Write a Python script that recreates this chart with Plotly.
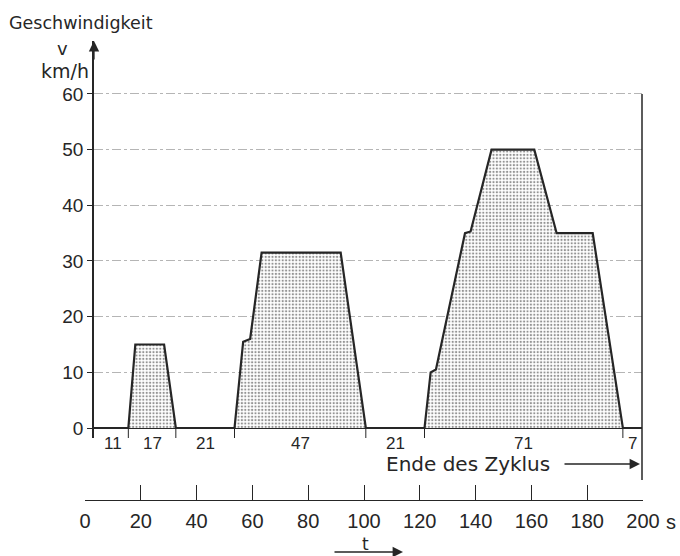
import plotly.graph_objects as go

# ---------------- data ----------------
time_s = [0, 11, 13.5, 23.8, 28, 49, 52.1, 54.6, 58.7, 87, 96,
          117, 119.2, 121.1, 131.5, 133.5, 141, 156.3, 164.3, 177.2, 188, 195]
speed_kmh = [0, 0, 15, 15, 0, 0, 15.5, 16, 31.5, 31.5, 0,
             0, 10, 10.5, 35, 35.3, 50, 50, 35, 35, 0, 0]

segment_durations = [11, 17, 21, 47, 21, 71, 7]   # s
speed_ticks = [0, 10, 20, 30, 40, 50, 60]
time_ticks = [0, 20, 40, 60, 80, 100, 120, 140, 160, 180, 200]
time_ticktext = ["0", "20", "40", "60", "80", "100", "120", "140", "160", "180", "200"]

# ---------------- helpers ----------------
W, H = 680, 556
def px(x):
    return x / W
def py(y):
    return 1 - y / H

INK = "#262626"
NUMFONT = "Liberation Sans"
TXTFONT = "DejaVu Sans"

# segment boundaries / midpoints
bounds = []
acc = 0
for d in segment_durations:
    acc += d
    bounds.append(acc)
starts = [0] + bounds[:-1]
mids = [(s + e) / 2 for s, e in zip(starts, bounds)]

fig = go.Figure()

# speed profile with stippled fill
fig.add_trace(go.Scatter(
    x=time_s, y=speed_kmh, mode="lines",
    line=dict(color=INK, width=2.2),
    fill="tozeroy", fillcolor="white",
    fillpattern=dict(shape=".", size=3.4, solidity=0.35, fgcolor="#2a2a2a", bgcolor="white"),
    hoverinfo="skip", showlegend=False, xaxis="x", yaxis="y"))

# segment tick marks below the baseline
tx, ty = [], []
for b in bounds[:-1]:
    tx += [b, b, None]
    ty += [0, -1.8, None]
fig.add_trace(go.Scatter(x=tx, y=ty, mode="lines", line=dict(color=INK, width=1),
                         hoverinfo="skip", showlegend=False, xaxis="x", yaxis="y",
                         cliponaxis=False))

# dummy trace for the bottom time axis
fig.add_trace(go.Scatter(x=[0, 200], y=[0, 0], mode="markers", marker=dict(opacity=0),
                         hoverinfo="skip", showlegend=False, xaxis="x2", yaxis="y2"))

yr0 = (428 - 438) / 5.567
yr1 = (428 - 41) / 5.567
xr0 = (94 - 97.6) / 2.794
xr1 = (642 - 97.6) / 2.794

def note(x, y, text, family, size):
    return dict(x=px(x), y=py(y), xref="paper", yref="paper", text=text,
                xanchor="center", yanchor="middle", showarrow=False,
                font=dict(family=family, size=size, color=INK))

def arrow(x, y, ax, ay):
    return dict(x=px(x), y=py(y), xref="paper", yref="paper", text="", showarrow=True,
                ax=ax, ay=ay, arrowhead=2, arrowsize=1.6, arrowwidth=1.3, arrowcolor=INK)

annotations = []
for m, d in zip(mids, segment_durations):
    annotations.append(dict(x=m, y=py(443), xref="x", yref="paper", text=str(d),
                            xanchor="center", yanchor="middle", showarrow=False,
                            font=dict(family=NUMFONT, size=17, color=INK)))

annotations += [
    note(81, 23, "Geschwindigkeit", TXTFONT, 17.5),
    note(62, 48, "v", TXTFONT, 18),
    note(65, 71, "km/h", TXTFONT, 19),
    note(468, 464, "Ende des Zyklus", TXTFONT, 20),
    note(365, 544, "t", TXTFONT, 17),
    note(671, 522, "s", NUMFONT, 20),
    arrow(94, 41, 0, 20),
    arrow(640, 464, -77, 0),
    arrow(403, 552, -70, 0),
]

shapes = [
    # right border
    dict(type="line", xref="paper", yref="paper", x0=px(642), x1=px(642),
         y0=py(94), y1=py(480), line=dict(color=INK, width=1.5)),
]

fig.update_layout(
    width=W, height=H, margin=dict(l=0, r=0, t=0, b=0, autoexpand=False),
    paper_bgcolor="white", plot_bgcolor="white",
    showlegend=False,
    xaxis=dict(domain=[px(94), px(642)], range=[xr0, xr1], visible=False,
               anchor="y", fixedrange=True, automargin=False),
    yaxis=dict(domain=[py(438), py(41)], range=[yr0, yr1], anchor="x", automargin=False,
               tickvals=speed_ticks, ticks="outside", ticklen=5, tickcolor=INK,
               showline=True, linecolor=INK, linewidth=1.5,
               showgrid=True, gridcolor="#b5b5b5", gridwidth=1, griddash="dashdot",
               zeroline=True, zerolinecolor=INK, zerolinewidth=1.5,
               tickfont=dict(family=NUMFONT, size=19, color=INK), ticklabelstandoff=0),
    xaxis2=dict(domain=[px(85), px(643)], range=[0, 200], anchor="y2", automargin=False,
                tickvals=time_ticks, ticktext=time_ticktext,
                ticks="inside", ticklen=15, tickcolor=INK,
                showline=True, linecolor=INK, linewidth=1.3, showgrid=False,
                zeroline=False, tickfont=dict(family=NUMFONT, size=20, color=INK),
                ticklabelstandoff=3),
    yaxis2=dict(domain=[py(500), py(470)], range=[0, 1], visible=False, anchor="x2",
                automargin=False),
    annotations=annotations,
    shapes=shapes,
)

fig.write_html("out.html", config={"displayModeBar": False},
               post_script="document.body.style.margin='0';document.body.style.overflow='hidden';")
